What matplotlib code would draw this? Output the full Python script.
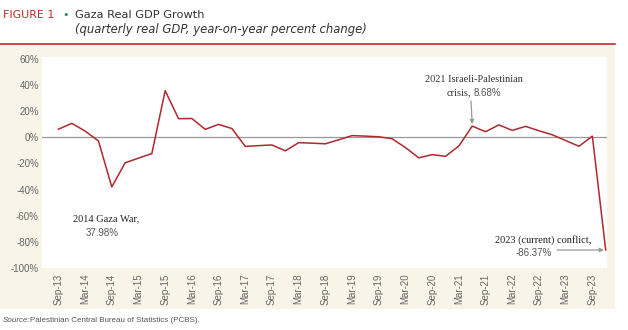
import matplotlib
matplotlib.use("Agg")
import matplotlib.pyplot as plt
from matplotlib.patches import Rectangle
from matplotlib.lines import Line2D

# ---- data ----
quarters = ["Sep-13", "Dec-13", "Mar-14", "Jun-14", "Sep-14", "Dec-14", "Mar-15", "Jun-15",
            "Sep-15", "Dec-15", "Mar-16", "Jun-16", "Sep-16", "Dec-16", "Mar-17", "Jun-17",
            "Sep-17", "Dec-17", "Mar-18", "Jun-18", "Sep-18", "Dec-18", "Mar-19", "Jun-19",
            "Sep-19", "Dec-19", "Mar-20", "Jun-20", "Sep-20", "Dec-20", "Mar-21", "Jun-21",
            "Sep-21", "Dec-21", "Mar-22", "Jun-22", "Sep-22", "Dec-22", "Mar-23", "Jun-23",
            "Sep-23", "Dec-23"]
growth = [6.3, 10.8, 4.9, -2.7, -37.98, -19.5, -15.9, -12.4,
          35.9, 14.4, 14.5, 6.2, 10.0, 6.8, -6.9, -6.3,
          -5.8, -10.3, -4.0, -4.4, -4.9, -1.8, 1.4, 1.0,
          0.5, -1.0, -7.8, -15.7, -13.2, -14.5, -6.6, 8.68,
          4.4, 9.6, 5.4, 8.5, 5.1, 2.0, -2.4, -6.8,
          1.0, -86.37]
tick_labels = quarters[0::2]
yticks = [60, 40, 20, 0, -20, -40, -60, -80, -100]

W, H = 628, 330
fig = plt.figure(figsize=(W / 100, H / 100), dpi=100, facecolor="white")

def fx(px):
    return px / W

def fy(py):
    return 1 - py / H

# beige panel
fig.patches.append(Rectangle((0, fy(309)), fx(615), fy(45) - fy(309),
                             transform=fig.transFigure, facecolor="#F8F4E8",
                             edgecolor="none", zorder=-5))
# red rule
fig.lines.append(Line2D([0, fx(615)], [fy(44), fy(44)], transform=fig.transFigure,
                        color="#C0272D", linewidth=1.2, zorder=-4))

# header
fig.text(fx(3), fy(15), "FIGURE 1", color="#C0272D", fontsize=7.9,
         family="DejaVu Sans", va="center", ha="left")
fig.text(fx(66), fy(15), "\u2022", color="#2E8B57", fontsize=8, family="DejaVu Sans",
         va="center", ha="center")
fig.text(fx(75), fy(15), "Gaza Real GDP Growth", color="#333333", fontsize=8.2,
         family="DejaVu Sans", va="center", ha="left")
fig.text(fx(75), fy(30), "(quarterly real GDP, year-on-year percent change)",
         color="#333333", fontsize=8.4, family="DejaVu Sans", style="italic",
         va="center", ha="left")

# axes
ax = fig.add_axes([fx(41.7), fy(267.7), fx(607.3) - fx(41.7), fy(57.3) - fy(267.7)])
ax.set_zorder(1)
ax.set_facecolor("white")
x = list(range(len(growth)))
ax.plot(x, growth, color="#B0282E", linewidth=1.1, zorder=3)
ax.axhline(0, color="#999999", linewidth=0.9, zorder=2)
ax.set_xlim(-1.25, 41.12)
ax.set_ylim(-100, 61.5)
for s in ax.spines.values():
    s.set_visible(False)
ax.set_yticks(yticks)
ax.set_yticklabels([f"{v}%" for v in yticks])
ax.set_xticks(x[0::2])
ax.set_xticklabels(tick_labels, rotation=90)
ax.tick_params(axis="both", length=0, labelsize=7, labelcolor="#666666")
ax.tick_params(axis="y", pad=2)
ax.tick_params(axis="x", pad=4)
for lab in ax.get_xticklabels() + ax.get_yticklabels():
    lab.set_family("Liberation Sans")

# annotations
serif = "Liberation Serif"
sans = "Liberation Sans"
ax.annotate("2014 Gaza War,", xy=(fx(106), fy(219)), xycoords="figure fraction",
            ha="center", va="center", fontsize=7.5, family=serif, color="#222222")
ax.annotate("37.98%", xy=(fx(102), fy(233)), xycoords="figure fraction",
            ha="center", va="center", fontsize=7, family=sans, color="#555555")

ax.annotate("2021 Israeli-Palestinian", xy=(fx(474), fy(79.5)), xycoords="figure fraction",
            ha="center", va="center", fontsize=7.5, family=serif, color="#333333")
ax.annotate("crisis,", xy=(fx(471), fy(93)), xycoords="figure fraction",
            ha="right", va="center", fontsize=7.5, family=serif, color="#333333")
ax.annotate("8.68%", xy=(fx(474), fy(93)), xycoords="figure fraction",
            ha="left", va="center", fontsize=7, family=sans, color="#555555")
ax.annotate("", xy=(31, growth[31] + 1.5), xytext=(fx(471), fy(101)),
            textcoords="figure fraction",
            arrowprops=dict(arrowstyle="-|>", color="#999999", lw=0.9,
                            mutation_scale=6, shrinkA=0, shrinkB=0))

ax.annotate("2023 (current) conflict,", xy=(fx(591), fy(240)), xycoords="figure fraction",
            ha="right", va="center", fontsize=7.5, family=serif, color="#222222")
ax.annotate("-86.37%", xy=(fx(534), fy(253)), xycoords="figure fraction",
            ha="center", va="center", fontsize=7, family=sans, color="#555555")
ax.annotate("", xy=(fx(604), fy(250)), xytext=(fx(557), fy(250)),
            xycoords="figure fraction", textcoords="figure fraction",
            arrowprops=dict(arrowstyle="-|>", color="#999999", lw=0.9,
                            mutation_scale=6, shrinkA=0, shrinkB=0))

# source
fig.text(fx(3), fy(320), "Source:", fontsize=5.8, style="italic", family=sans,
         color="#555555", va="center", ha="left")
fig.text(fx(29.5), fy(320), "Palestinian Central Bureau of Statistics (PCBS).", fontsize=5.8,
         family=sans, color="#555555", va="center", ha="left")

fig.savefig("out.png", dpi=100, facecolor="white")
